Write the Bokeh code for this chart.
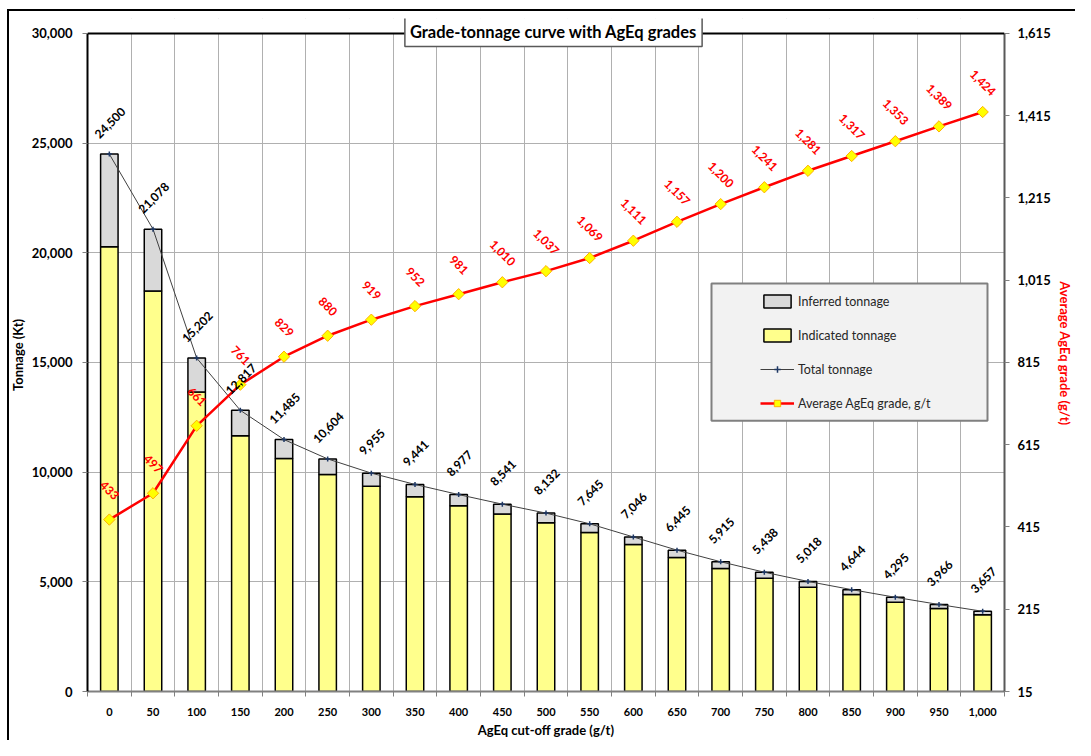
import math
from bokeh.plotting import figure
from bokeh.models import (ColumnDataSource, Range1d, LinearAxis, FixedTicker, LabelSet, Label,
                          Legend, LegendItem, BoxAnnotation, Span, NumeralTickFormatter)
from bokeh.core.properties import value
from bokeh.embed import file_html
from bokeh.resources import INLINE

# ---------------- data ----------------
cutoff_grades = [0, 50, 100, 150, 200, 250, 300, 350, 400, 450, 500,
                 550, 600, 650, 700, 750, 800, 850, 900, 950, 1000]
total_tonnage = [24500, 21078, 15202, 12817, 11485, 10604, 9955, 9441, 8977, 8541, 8132,
                 7645, 7046, 6445, 5915, 5438, 5018, 4644, 4295, 3966, 3657]
indicated_tonnage = [20280, 18260, 13650, 11660, 10620, 9890, 9360, 8880, 8470, 8090, 7690,
                     7250, 6700, 6110, 5610, 5160, 4750, 4420, 4070, 3780, 3500]
avg_grade = [433, 497, 661, 761, 829, 880, 919, 952, 981, 1010, 1037,
             1069, 1111, 1157, 1200, 1241, 1281, 1317, 1353, 1389, 1424]
left_ticks = [0, 5000, 10000, 15000, 20000, 25000, 30000]
right_ticks = [15, 215, 415, 615, 815, 1015, 1215, 1415, 1615]

inferred_tonnage = [t - i for t, i in zip(total_tonnage, indicated_tonnage)]
xs = list(range(len(cutoff_grades)))
cat_labels = [f"{c:,}" for c in cutoff_grades]

src = ColumnDataSource(dict(
    x=xs, indicated=indicated_tonnage, inferred=inferred_tonnage, total=total_tonnage,
    grade=avg_grade,
    total_lbl=[f"{v:,}" for v in total_tonnage],
    grade_lbl=[f"{v:,}" for v in avg_grade],
))

FONT = "Lato"

# frame is slightly taller than the plot area so the boxed title can straddle its top line
FRAME_TOP_PAD = 676 / 661
tmax, gmin, gmax = left_ticks[-1], right_ticks[0], right_ticks[-1]

p = figure(width=1075, height=740,
           x_range=Range1d(-0.5, len(xs) - 0.5),
           y_range=Range1d(0, tmax * FRAME_TOP_PAD),
           output_backend="svg", toolbar_location=None,
           min_border_left=87, min_border_right=67, min_border_top=18, min_border_bottom=46,
           background_fill_color="white", border_fill_alpha=0)
p.styles = {"background": "linear-gradient(#000,#000) 7px 9px / 2px calc(100% - 9px) no-repeat, "
                          "linear-gradient(#000,#000) 7px 9px / calc(100% - 7px) 2px no-repeat, #ffffff"}
p.extra_y_ranges = {"grade": Range1d(gmin, gmin + (gmax - gmin) * FRAME_TOP_PAD)}
p.outline_line_alpha = 0

# grids
p.xgrid.ticker = FixedTicker(ticks=[i + 0.5 for i in range(len(xs) - 1)])
p.ygrid.ticker = FixedTicker(ticks=left_ticks)
for g in (p.xgrid[0], p.ygrid[0]):
    g.grid_line_color = "#b0b0b0"
    g.grid_line_width = 1

# white cover above the plot area (hides grid extension)
p.add_layout(BoxAnnotation(bottom=tmax, fill_color="white", fill_alpha=1, line_alpha=0,
                           level="underlay"))

# bottom axis
xax = p.xaxis[0]
xax.ticker = FixedTicker(ticks=xs, minor_ticks=[i - 0.5 for i in range(len(xs) + 1)])
xax.major_label_overrides = {i: lbl for i, lbl in zip(xs, cat_labels)}
xax.major_tick_out = 0
xax.major_tick_in = 0
xax.minor_tick_out = 5
xax.minor_tick_in = 0
xax.minor_tick_line_color = "#808080"
xax.axis_line_color = "#808080"
xax.axis_line_width = 2
xax.major_label_standoff = 11
xax.major_label_text_font = FONT
xax.major_label_text_font_style = "bold"
xax.major_label_text_font_size = "11px"
xax.major_label_text_color = "black"
xax.axis_label = "AgEq cut-off grade (g/t)"
xax.axis_label_standoff = 3
xax.axis_label_text_font = FONT
xax.axis_label_text_font_style = "bold"
xax.axis_label_text_font_size = "13px"
xax.axis_label_text_color = "black"

# left axis
yax = p.yaxis[0]
yax.ticker = FixedTicker(ticks=left_ticks)
yax.bounds = (0, tmax)
yax.formatter = NumeralTickFormatter(format="0,0")
yax.major_tick_out = 5
yax.major_tick_in = 0
yax.minor_tick_out = 0
yax.minor_tick_in = 0
yax.major_tick_line_color = "#808080"
yax.axis_line_color = "black"
yax.axis_line_width = 2
yax.major_label_standoff = 10
yax.major_label_text_font = FONT
yax.major_label_text_font_style = "bold"
yax.major_label_text_font_size = "13px"
yax.major_label_text_color = "black"
yax.axis_label = "Tonnage (Kt)"
yax.axis_label_standoff = 3
yax.axis_label_text_font = FONT
yax.axis_label_text_font_style = "bold"
yax.axis_label_text_font_size = "13px"
yax.axis_label_text_color = "black"

# right axis
rax = LinearAxis(y_range_name="grade", ticker=FixedTicker(ticks=right_ticks),
                 formatter=NumeralTickFormatter(format="0,0"), bounds=(gmin, gmax))
rax.major_tick_out = 5
rax.major_tick_in = 0
rax.minor_tick_out = 0
rax.minor_tick_in = 0
rax.major_tick_line_color = "#808080"
rax.axis_line_color = "#595959"
rax.axis_line_width = 2
rax.major_label_standoff = 8
rax.major_label_text_font = FONT
rax.major_label_text_font_style = "bold"
rax.major_label_text_font_size = "13px"
rax.major_label_text_color = "black"
rax.axis_label = "Average  AgEq grade (g/t)"
rax.axis_label_standoff = 3
rax.axis_label_text_font = FONT
rax.axis_label_text_font_style = "bold"
rax.axis_label_text_font_size = "13px"
rax.axis_label_text_color = "#ff0000"
p.add_layout(rax, "right")

# top line of the plot area
p.add_layout(Span(location=tmax, dimension="width", line_color="black", line_width=2))

# stacked bars
bars = p.vbar_stack(["indicated", "inferred"], x="x", width=0.4, source=src,
                    fill_color=["#ffff8c", "#d9d9d9"], line_color="black", line_width=1.5)

# total tonnage line
tl = p.line("x", "total", source=src, line_color="#404040", line_width=1)
tm = p.scatter("x", "total", source=src, marker="cross", size=5,
               line_color="#1f3864", line_width=1.5)

# grade line
gl = p.line("x", "grade", source=src, y_range_name="grade", line_color="#ff0000", line_width=2.5)
gm = p.scatter("x", "grade", source=src, y_range_name="grade", marker="square", size=8,
               angle=math.pi / 4, fill_color="#ffff00", line_color="#ffb000", line_width=1)

# data labels
p.add_layout(LabelSet(x="x", y="total", text="total_lbl", source=src, angle=math.pi / 4,
                      x_offset=1, y_offset=31, text_align="center", text_baseline="middle",
                      text_font=value(FONT), text_font_size="12px", text_font_style="bold",
                      text_color="black"))
p.add_layout(LabelSet(x="x", y="grade", text="grade_lbl", source=src, y_range_name="grade",
                      angle=-math.pi / 4, x_offset=0, y_offset=29,
                      text_align="center", text_baseline="middle",
                      text_font=value(FONT), text_font_size="12px", text_font_style="bold",
                      text_color="#ff0000"))

# legend box + legend
p.add_layout(BoxAnnotation(left=624, right=900, bottom=270.7, top=408,
                           left_units="screen", right_units="screen",
                           top_units="screen", bottom_units="screen",
                           fill_color="#f2f2f2", fill_alpha=1,
                           line_color="#808080", line_width=2, line_alpha=1))
legend = Legend(items=[
    LegendItem(label="Inferred tonnage", renderers=[bars[1]]),
    LegendItem(label="Indicated tonnage", renderers=[bars[0]]),
    LegendItem(label="Total tonnage", renderers=[tl, tm]),
    LegendItem(label="Average AgEq grade, g/t", renderers=[gl, gm]),
], location=(673, 280), orientation="vertical", padding=0, margin=0, spacing=18,
    glyph_width=34, glyph_height=16, label_height=16, label_standoff=4,
    label_text_font=FONT, label_text_font_size="12.5px", label_text_color="#262626",
    border_line_alpha=0, background_fill_alpha=0)
p.add_layout(legend)

# boxed title
p.add_layout(Label(x=466, y=660, x_units="screen", y_units="screen",
                   text="Grade-tonnage curve with AgEq grades",
                   text_align="center", text_baseline="middle",
                   text_font=FONT, text_font_size="16.5px", text_font_style="bold",
                   text_color="black", background_fill_color="white",
                   border_line_color="#595959", border_line_width=1.5,
                   padding=5, level="overlay"))

open("out.html", "w").write(file_html(p, INLINE))
